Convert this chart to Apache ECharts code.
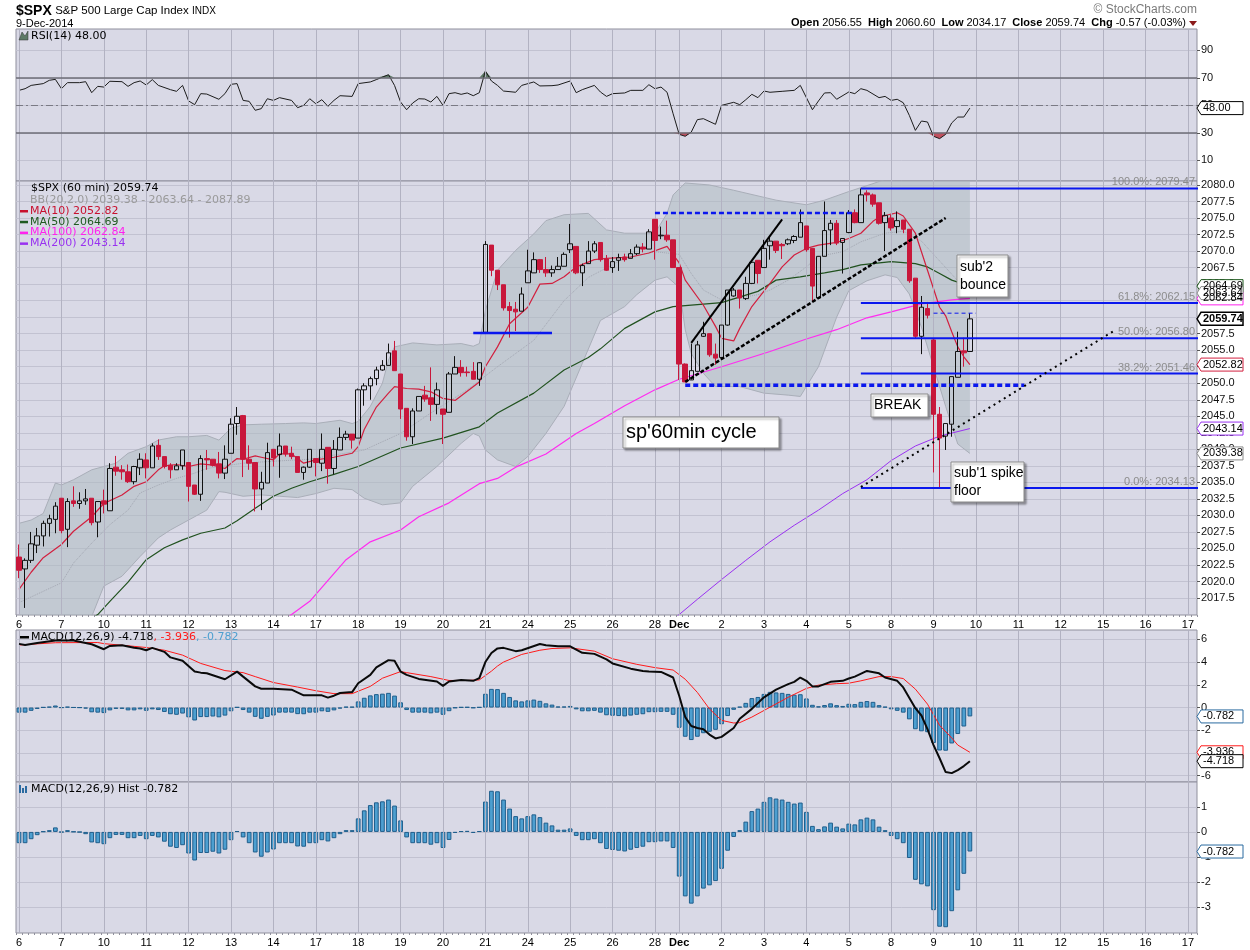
<!DOCTYPE html>
<html>
<head>
    <meta http-equiv="Content-Type" content="text/html; charset=utf-8" />
    <title>$SPX 60 min</title>
    <script type="text/javascript" src="https://cdn.jsdelivr.net/npm/echarts@6/dist/echarts.min.js"></script>
    <style>
        html, body { margin: 0; padding: 0; background: #fff; }
        #chartView { width: 1250px; height: 950px; }
    </style>
</head>
<body>
    <div id="chartView"></div>

    <script>
        //交易日与每日小时线数量
        var dayLabels = ['6', '7', '10', '11', '12', '13', '14', '17', '18', '19', '20', '21', '24', '25', '26', '28',
            'Dec', '2', '3', '4', '5', '8', '9', '10', '11', '12', '15', '16', '17'];
        var dayBars = [7, 7, 7, 7, 7, 7, 7, 7, 7, 7, 7, 7, 7, 7, 7, 4, 7, 7, 7, 7, 7, 7, 7, 7, 7, 7, 7, 7, 2];

        //K线 (60 min)
        var opens = [
            2023.7, 2021.9, 2023.2, 2025.5, 2026.9, 2028.8, 2029.4,
            2032.6, 2027.9, 2032.2, 2031.8, 2032.2, 2032.6, 2029.0,
            2032.2, 2030.7, 2037.3, 2036.9, 2036.6, 2035.1, 2037.2,
            2038.4, 2037.2, 2040.6, 2038.9, 2037.6, 2036.9, 2037.5,
            2038.0, 2034.6, 2033.2, 2038.6, 2038.5, 2037.8, 2036.4,
            2039.4, 2043.9, 2045.1, 2038.5, 2038.0, 2034.0, 2034.9,
            2040.0, 2039.2, 2040.5, 2039.4, 2038.9, 2036.5, 2037.3,
            2038.6, 2037.9, 2040.3, 2037.1, 2039.9, 2041.8, 2042.3,
            2041.7, 2049.0, 2049.6, 2050.7, 2052.0, 2052.7, 2054.9,
            2051.4, 2046.2, 2041.9, 2045.8, 2048.2, 2047.8, 2046.8,
            2046.1, 2045.6, 2051.4, 2052.4, 2051.7, 2051.8, 2050.6,
            2057.7, 2070.9, 2067.1, 2064.9, 2061.6, 2061.2, 2060.9,
            2065.2, 2066.7, 2068.7, 2067.2, 2066.7, 2067.2, 2067.7,
            2070.2, 2070.7, 2066.7, 2068.1, 2070.0, 2071.3, 2068.8,
            2067.5, 2068.6, 2069.1, 2068.9, 2069.6, 2070.6, 2070.3,
            2074.8, 2072.3, 2072.4, 2071.7,
            2067.5, 2052.9, 2050.5, 2051.8, 2057.1, 2057.5, 2054.4,
            2053.9, 2058.8, 2063.2, 2064.1, 2062.8, 2065.1, 2068.6,
            2067.5, 2070.8, 2071.5, 2071.0, 2071.1, 2071.6, 2072.1,
            2073.8, 2070.4, 2062.9, 2069.2, 2073.2, 2074.2, 2071.3,
            2072.8, 2075.8, 2074.3, 2078.8, 2078.5, 2077.3, 2074.3,
            2075.0, 2073.7, 2074.7, 2073.3, 2065.9, 2057.1, 2061.3,
            2056.55, 2045.3, 2042.0, 2043.8, 2050.9, 2054.9, 2054.8
        ];
        var highs = [
            2025.6, 2023.5, 2027.5, 2028.1, 2029.2, 2030.1, 2032.0,
            2032.6, 2032.6, 2034.4, 2033.5, 2034.0, 2032.6, 2032.1,
            2033.9, 2037.9, 2039.0, 2037.6, 2037.7, 2037.5, 2039.4,
            2039.4, 2040.9, 2041.5, 2038.9, 2037.9, 2037.9, 2039.9,
            2038.0, 2034.6, 2039.1, 2039.9, 2038.5, 2039.6, 2040.6,
            2044.7, 2046.4, 2045.2, 2040.6, 2038.0, 2036.6, 2041.0,
            2040.0, 2042.4, 2040.5, 2040.4, 2038.9, 2037.4, 2040.0,
            2038.6, 2042.4, 2040.3, 2041.4, 2043.3, 2042.8, 2042.3,
            2049.2, 2050.0, 2051.0, 2052.5, 2053.5, 2056.0, 2056.4,
            2051.4, 2046.2, 2046.2, 2048.0, 2049.6, 2052.4, 2050.1,
            2046.1, 2051.7, 2054.1, 2053.5, 2052.5, 2053.2, 2053.2,
            2071.5, 2070.9, 2067.1, 2064.9, 2062.3, 2062.3, 2064.5,
            2070.2, 2069.8, 2068.8, 2069.1, 2067.8, 2069.1, 2069.8,
            2074.1, 2070.7, 2068.1, 2071.5, 2071.5, 2071.3, 2069.4,
            2069.1, 2069.6, 2069.6, 2070.3, 2071.0, 2071.2, 2073.3,
            2074.8, 2073.7, 2074.6, 2071.7,
            2067.5, 2053.0, 2056.0, 2056.4, 2059.3, 2057.5, 2056.0,
            2058.8, 2064.1, 2064.4, 2064.1, 2066.1, 2068.6, 2068.6,
            2071.7, 2072.2, 2071.5, 2071.2, 2071.9, 2072.4, 2076.3,
            2073.8, 2070.4, 2069.2, 2077.5, 2074.7, 2074.7, 2071.9,
            2076.2, 2076.3, 2079.47, 2079.2, 2078.7, 2077.3, 2075.9,
            2075.5, 2076.0, 2074.7, 2073.3, 2065.9, 2063.2, 2062.3,
            2056.8, 2046.4, 2043.9, 2051.0, 2057.8, 2056.9, 2060.6
        ];
        var lows = [
            2020.5, 2016.0, 2022.8, 2024.3, 2025.3, 2026.8, 2027.3,
            2027.3, 2025.2, 2031.3, 2031.0, 2031.6, 2028.5, 2026.7,
            2030.3, 2030.7, 2036.0, 2035.4, 2034.9, 2034.7, 2036.1,
            2035.6, 2037.2, 2038.4, 2037.1, 2035.6, 2036.9, 2036.9,
            2032.1, 2033.1, 2032.2, 2036.9, 2037.4, 2035.6, 2035.5,
            2039.4, 2042.2, 2035.8, 2036.9, 2030.6, 2030.8, 2034.9,
            2037.4, 2035.7, 2038.9, 2038.5, 2036.5, 2035.4, 2037.2,
            2035.9, 2036.7, 2034.8, 2036.2, 2039.9, 2041.4, 2040.1,
            2041.7, 2046.6, 2047.5, 2049.7, 2051.9, 2052.7, 2051.9,
            2044.6, 2041.3, 2040.8, 2045.8, 2047.2, 2044.3, 2045.3,
            2040.8, 2045.6, 2051.4, 2051.0, 2051.0, 2050.6, 2049.6,
            2057.7, 2066.2, 2064.1, 2061.0, 2056.9, 2057.9, 2060.9,
            2065.2, 2066.7, 2066.7, 2066.1, 2066.1, 2067.2, 2067.7,
            2069.7, 2066.5, 2064.7, 2068.1, 2069.7, 2068.4, 2067.0,
            2066.7, 2067.0, 2068.4, 2068.9, 2069.4, 2069.8, 2070.3,
            2068.7, 2071.8, 2071.4, 2067.5,
            2050.5, 2050.2, 2050.5, 2051.8, 2057.0, 2054.0, 2052.8,
            2053.8, 2058.7, 2063.1, 2061.3, 2062.6, 2065.0, 2065.1,
            2067.5, 2068.7, 2069.7, 2068.8, 2070.9, 2071.2, 2072.1,
            2069.9, 2062.4, 2062.9, 2069.2, 2070.9, 2070.9, 2066.6,
            2072.7, 2074.2, 2074.3, 2077.5, 2076.7, 2074.0, 2070.0,
            2073.1, 2072.7, 2072.7, 2065.2, 2056.8, 2054.4, 2059.8,
            2036.5, 2034.17, 2039.9, 2041.9, 2050.9, 2052.5, 2054.8
        ];
        var closes = [
            2021.7, 2023.2, 2025.7, 2026.9, 2028.8, 2029.5, 2031.4,
            2027.7, 2032.1, 2031.8, 2032.2, 2032.5, 2028.9, 2032.1,
            2031.7, 2037.1, 2036.7, 2036.6, 2035.1, 2037.4, 2038.5,
            2037.2, 2040.5, 2038.9, 2037.4, 2036.9, 2037.5, 2039.9,
            2034.4, 2033.2, 2038.6, 2038.4, 2037.6, 2036.4, 2038.5,
            2043.8, 2045.0, 2038.5, 2037.9, 2034.0, 2035.0, 2039.5,
            2038.7, 2040.5, 2039.3, 2038.9, 2036.5, 2037.3, 2040.0,
            2038.0, 2040.0, 2037.1, 2040.0, 2041.8, 2042.3, 2041.4,
            2049.0, 2049.6, 2050.7, 2052.0, 2052.7, 2054.6, 2051.9,
            2046.1, 2041.9, 2045.8, 2048.0, 2047.6, 2046.8, 2049.0,
            2045.3, 2051.4, 2052.4, 2051.6, 2051.6, 2050.6, 2053.1,
            2071.0, 2067.1, 2064.9, 2061.4, 2061.0, 2060.8, 2063.5,
            2067.0, 2068.7, 2067.2, 2066.7, 2067.2, 2067.7, 2069.5,
            2071.1, 2066.7, 2067.8, 2070.0, 2071.1, 2068.7, 2067.1,
            2068.4, 2069.0, 2068.7, 2069.6, 2070.6, 2070.3, 2072.9,
            2071.6, 2072.4, 2071.7, 2067.5,
            2052.9, 2050.2, 2051.9, 2055.8, 2057.5, 2054.3, 2053.8,
            2058.8, 2064.1, 2064.1, 2062.9, 2065.1, 2068.3, 2066.6,
            2070.4, 2071.5, 2070.1, 2070.8, 2071.7, 2072.2, 2074.3,
            2070.2, 2064.7, 2069.2, 2073.1, 2074.2, 2071.2, 2071.9,
            2075.8, 2074.3, 2078.5, 2078.5, 2077.1, 2074.2, 2075.4,
            2073.5, 2074.6, 2073.3, 2065.5, 2057.1, 2061.5, 2060.3,
            2045.3, 2041.7, 2043.9, 2051.0, 2054.8, 2054.6, 2059.74
        ];

        //均线与布林带 [bar, value]
        var ma10 = [[0, 2018.8], [2, 2021.4], [4, 2023.6], [7, 2025.6], [9, 2027.6], [12, 2029.8], [14, 2031.8], [17, 2033.1],
            [19, 2034.4], [21, 2035.1], [23, 2036.9], [24, 2037.5], [26, 2037.7], [28, 2037.4], [30, 2037.8], [32, 2037.6],
            [34, 2037.1], [35, 2037.9], [36, 2038.6], [37, 2038.5], [39, 2039.0], [40, 2038.8], [42, 2038.4], [43, 2039.3],
            [45, 2039.3], [47, 2037.9], [49, 2038.4], [52, 2038.8], [55, 2039.4], [56, 2040.4], [57, 2043.0], [59, 2046.4],
            [61, 2048.5], [62, 2049.5], [64, 2049.2], [66, 2049.1], [68, 2048.7], [70, 2047.7], [72, 2047.4], [74, 2048.8],
            [76, 2050.2], [77, 2052.5], [79, 2055.5], [81, 2059.0], [84, 2061.5], [86, 2065.0], [88, 2065.1], [90, 2066.1],
            [92, 2067.6], [95, 2068.7], [97, 2068.9], [101, 2069.1], [104, 2069.7], [107, 2070.7], [109, 2068.2], [110, 2065.6],
            [113, 2061.8], [115, 2058.6], [116, 2056.8], [118, 2056.4], [119, 2058.3], [121, 2061.6], [124, 2065.1],
            [126, 2067.6], [128, 2069.4], [130, 2070.4], [132, 2070.9], [135, 2071.3], [137, 2071.9], [139, 2072.7],
            [141, 2074.5], [142, 2075.1], [144, 2075.6], [145, 2075.8], [146, 2075.3], [147, 2074.0], [148, 2072.7],
            [149, 2069.9], [150, 2067.1], [152, 2061.5], [153, 2060.2], [154, 2057.8], [155, 2055.5], [156, 2054.0], [157, 2052.82]];
        var ma50 = [[12, 2014.4], [13, 2015.0], [15, 2017.0], [18, 2019.9], [21, 2023.3], [24, 2025.1], [27, 2026.3], [30, 2027.3],
            [34, 2028.1], [36, 2029.2], [39, 2031.1], [42, 2032.9], [45, 2034.1], [48, 2035.1], [52, 2036.2], [56, 2037.4],
            [63, 2040.2], [70, 2041.7], [76, 2043.4], [79, 2045.5], [85, 2048.5], [90, 2052.0], [94, 2053.9], [96, 2055.2],
            [100, 2058.3], [105, 2060.8], [108, 2061.6], [116, 2062.2], [122, 2063.9], [125, 2065.6], [129, 2066.1],
            [133, 2066.7], [136, 2067.2], [139, 2067.9], [144, 2068.4], [148, 2068.1], [150, 2067.6], [152, 2066.6],
            [154, 2065.6], [157, 2064.69]];
        var ma100 = [[44, 2014.3], [45, 2015.0], [48, 2017.0], [54, 2023.3], [58, 2026.0], [63, 2027.8], [66, 2029.8], [71, 2031.9],
            [76, 2034.8], [79, 2035.6], [82, 2037.3], [87, 2039.3], [92, 2042.4], [95, 2043.9], [100, 2046.6], [105, 2049.0],
            [109, 2050.6], [116, 2052.5], [124, 2054.8], [130, 2056.7], [135, 2058.1], [140, 2059.9], [144, 2060.8],
            [149, 2062.0], [154, 2062.6], [157, 2062.84]];
        var ma200 = [[108, 2014.3], [109, 2015.0], [112, 2017.3], [116, 2020.3], [120, 2023.2], [124, 2026.0], [128, 2028.5],
            [132, 2030.8], [136, 2033.3], [140, 2035.4], [144, 2038.3], [148, 2040.5], [152, 2042.0], [157, 2043.14]];
        var bbUpper = [[0, 2028.8], [2, 2029.3], [4, 2030.3], [6, 2034.9], [7, 2034.6], [9, 2035.4], [12, 2036.9], [14, 2037.4],
            [16, 2037.9], [18, 2039.4], [21, 2040.4], [23, 2041.4], [26, 2041.9], [28, 2041.9], [31, 2042.1], [33, 2041.4],
            [35, 2043.2], [37, 2043.7], [40, 2043.8], [44, 2043.9], [47, 2044.0], [49, 2043.9], [53, 2044.4], [55, 2043.9],
            [56, 2044.2], [58, 2046.5], [60, 2050.0], [61, 2053.5], [62, 2055.5], [65, 2056.1], [69, 2055.8], [73, 2056.0],
            [75, 2055.6], [76, 2056.0], [77, 2061.0], [79, 2067.1], [82, 2070.1], [85, 2072.6], [87, 2074.6], [90, 2075.5],
            [94, 2075.7], [97, 2073.2], [100, 2072.7], [105, 2072.7], [107, 2075.7], [108, 2078.5], [110, 2080.3], [114, 2080.0],
            [118, 2079.2], [125, 2077.7], [130, 2077.0], [133, 2077.7], [137, 2079.0], [141, 2080.2], [145, 2081.5],
            [150, 2084.0], [157, 2087.89]];
        var bbMid = [[0, 2016.8], [7, 2019.8], [9, 2022.8], [12, 2025.8], [15, 2028.6], [18, 2030.8], [20, 2033.4], [23, 2034.6],
            [26, 2035.6], [29, 2036.4], [31, 2037.1], [37, 2037.9], [42, 2038.2], [48, 2038.5], [57, 2039.9], [63, 2042.4],
            [68, 2045.5], [74, 2049.0], [79, 2052.5], [85, 2056.5], [90, 2062.5], [94, 2066.0], [100, 2068.9], [105, 2069.9],
            [109, 2069.5], [111, 2066.6], [113, 2064.1], [116, 2062.6], [119, 2062.9], [122, 2063.4], [124, 2064.1],
            [127, 2065.6], [130, 2067.6], [132, 2069.2], [136, 2069.9], [139, 2071.4], [143, 2072.7], [146, 2073.0],
            [149, 2071.5], [152, 2068.5], [155, 2065.5], [157, 2063.64]];
        var bbLower = [[0, 2005.2], [4, 2004.5], [7, 2005.0], [9, 2010.2], [12, 2014.7], [14, 2019.3], [17, 2020.8], [20, 2023.8],
            [23, 2026.6], [25, 2027.8], [28, 2029.3], [31, 2030.8], [33, 2033.6], [34, 2033.5], [37, 2032.9], [40, 2033.1],
            [43, 2032.9], [46, 2032.7], [49, 2033.3], [52, 2034.1], [55, 2033.9], [57, 2032.6], [60, 2031.6], [63, 2031.9],
            [65, 2034.4], [69, 2037.4], [73, 2040.9], [75, 2042.4], [76, 2042.0], [77, 2039.9], [79, 2038.4], [82, 2037.4],
            [84, 2038.9], [87, 2042.4], [90, 2046.5], [93, 2053.0], [96, 2059.5], [100, 2061.6], [102, 2063.4], [105, 2065.6],
            [107, 2066.1], [109, 2064.5], [110, 2058.1], [111, 2054.5], [113, 2051.5], [115, 2049.5], [119, 2049.5],
            [123, 2048.5], [127, 2048.2], [129, 2048.0], [132, 2052.5], [135, 2060.0], [137, 2064.0], [140, 2065.5],
            [143, 2066.4], [145, 2066.0], [147, 2063.5], [149, 2058.5], [151, 2052.5], [153, 2046.5], [155, 2040.8], [157, 2039.38]];

        //RSI(14)
        var rsi = [[0, 60.9], [1, 62.1], [2, 64.5], [4, 65.8], [5, 68.2], [6, 68.9], [7, 62.1], [8, 66.5], [10, 66.5], [11, 67.2],
            [12, 59.2], [13, 63.8], [14, 63.3], [15, 67.5], [17, 67.2], [18, 63.8], [19, 66.5], [20, 67.7], [21, 64.8], [22, 68.7],
            [23, 64.5], [25, 61.4], [26, 60.2], [27, 64.5], [28, 53.2], [29, 50.5], [30, 58.5], [31, 58.2], [33, 54.4], [34, 58.5],
            [35, 65.3], [36, 65.8], [37, 53.6], [38, 52.9], [39, 46.4], [40, 47.6], [41, 54.8], [42, 53.6], [43, 55.6], [45, 53.6],
            [46, 48.3], [47, 50.0], [48, 54.8], [49, 51.2], [50, 54.1], [51, 49.3], [52, 53.6], [53, 57.0], [55, 56.5], [56, 65.8],
            [58, 67.0], [59, 68.7], [61, 72.3], [62, 64.5], [63, 52.4], [64, 46.8], [65, 51.7], [66, 54.8], [67, 54.6], [68, 52.4],
            [69, 56.5], [70, 50.0], [71, 58.5], [72, 59.2], [73, 58.0], [74, 59.0], [75, 57.0], [76, 59.2], [77, 75.0], [78, 67.7],
            [79, 64.5], [80, 60.4], [82, 59.5], [83, 64.5], [85, 67.0], [86, 64.1], [88, 64.3], [89, 64.8], [91, 67.7], [92, 59.2],
            [93, 61.4], [95, 64.5], [96, 59.7], [97, 56.5], [98, 58.5], [100, 59.0], [101, 60.9], [103, 60.9], [104, 65.0],
            [105, 62.1], [106, 63.3], [107, 59.5], [108, 43.9], [109, 28.9], [110, 27.5], [111, 30.6], [112, 39.6], [113, 40.3],
            [115, 36.2], [116, 50.0], [118, 52.2], [119, 50.5], [120, 54.1], [121, 58.0], [122, 55.6], [123, 60.4], [124, 59.5],
            [126, 60.2], [128, 60.9], [129, 64.5], [131, 46.8], [132, 53.2], [133, 59.0], [134, 59.2], [135, 54.4], [137, 59.7],
            [138, 58.5], [139, 62.1], [140, 60.9], [142, 55.6], [143, 56.5], [144, 53.6], [145, 54.4], [146, 51.9], [147, 42.7],
            [148, 31.8], [149, 38.6], [150, 37.9], [151, 27.5], [152, 25.8], [153, 28.9], [154, 37.2], [155, 41.5], [156, 41.5],
            [157, 48.0]];

        //MACD(12,26,9)
        var macdLine = [[0, 5.6], [1, 5.5], [3, 5.68], [6, 5.9], [9, 5.9], [12, 5.57], [14, 5.13], [15, 5.42], [17, 5.48], [19, 5.25],
            [20, 5.19], [21, 5.04], [22, 5.25], [24, 4.9], [25, 4.41], [27, 4.12], [29, 3.16], [30, 3.07], [31, 3.01], [34, 2.49],
            [36, 3.16], [37, 2.72], [39, 1.86], [40, 1.65], [42, 1.65], [45, 1.57], [47, 1.07], [48, 1.07], [50, 1.07], [51, 0.87],
            [52, 1.04], [53, 1.28], [55, 1.36], [56, 2.14], [58, 2.87], [59, 3.54], [61, 4.17], [62, 4.12], [63, 3.16], [64, 2.87],
            [66, 2.52], [69, 2.29], [70, 1.91], [71, 2.29], [73, 2.43], [75, 2.35], [76, 2.58], [77, 4.0], [78, 4.8], [79, 5.2],
            [80, 5.25], [82, 4.96], [83, 5.04], [86, 5.59], [87, 5.48], [89, 5.39], [91, 5.39], [93, 4.81], [95, 4.72], [97, 4.23],
            [98, 3.88], [101, 3.42], [103, 3.22], [104, 3.16], [106, 3.13], [108, 2.64], [109, 1.04], [110, -0.84], [111, -1.62],
            [112, -1.8], [113, -1.91], [114, -2.38], [115, -2.72], [116, -2.58], [118, -1.8], [119, -0.99], [121, -0.12],
            [123, 0.9], [125, 1.57], [127, 2.06], [128, 2.26], [129, 2.64], [130, 2.35], [131, 1.86], [132, 1.86], [134, 2.26],
            [136, 2.35], [137, 2.55], [138, 2.72], [140, 3.22], [142, 3.01], [143, 2.64], [145, 2.35], [146, 1.77], [148, -0.06],
            [149, -0.7], [150, -1.9], [151, -3.3], [152, -4.46], [153, -5.68], [154, -5.77], [155, -5.5], [156, -5.15], [157, -4.718]];
        var macdSignal = [[0, 5.5], [6, 5.7], [13, 5.72], [14, 5.62], [17, 5.48], [21, 5.28], [24, 5.04], [27, 4.61], [30, 3.88],
            [34, 3.25], [37, 3.07], [39, 2.72], [42, 2.2], [46, 1.8], [49, 1.48], [52, 1.22], [55, 1.22], [58, 1.86], [60, 2.58],
            [63, 3.16], [64, 3.07], [68, 2.72], [71, 2.38], [74, 2.38], [76, 2.43], [78, 3.2], [79, 3.65], [80, 4.0], [83, 4.67],
            [86, 5.04], [88, 5.19], [91, 5.25], [95, 4.96], [98, 4.29], [102, 3.8], [105, 3.51], [108, 3.3], [110, 2.49],
            [112, 1.33], [114, -0.12], [116, -1.13], [118, -1.36], [119, -1.33], [121, -0.84], [124, 0.03], [127, 0.9],
            [130, 1.68], [132, 1.97], [135, 2.1], [137, 2.14], [139, 2.35], [142, 2.72], [144, 2.72], [146, 2.55], [148, 1.62],
            [150, 0.3], [152, -1.57], [154, -2.67], [155, -3.3], [157, -3.936]];
        var macdHist = [
            -0.45, -0.45, -0.29, -0.13, 0.02, 0.07, 0.18,
            -0.01, 0.07, 0.01, -0.01, -0.09, -0.42, -0.45,
            -0.49, -0.25, -0.12, -0.12, -0.25, -0.25, -0.16,
            -0.29, -0.16, -0.22, -0.39, -0.59, -0.64, -0.53,
            -0.86, -1.14, -0.84, -0.84, -0.79, -0.86, -0.71,
            -0.33, 0.03, -0.22, -0.45, -0.82, -0.99, -0.82,
            -0.70, -0.45, -0.45, -0.45, -0.58, -0.59, -0.45,
            -0.45, -0.33, -0.38, -0.25, -0.09, 0.07, 0.07,
            0.54, 0.86, 1.07, 1.18, 1.22, 1.29, 1.05,
            0.46, -0.22, -0.45, -0.45, -0.45, -0.51, -0.45,
            -0.64, -0.32, -0.04, 0.03, 0.04, -0.04, 0.03,
            1.21, 1.64, 1.62, 1.29, 0.93, 0.63, 0.54,
            0.63, 0.70, 0.59, 0.37, 0.26, 0.09, 0.09,
            0.14, -0.16, -0.33, -0.33, -0.29, -0.45, -0.68,
            -0.72, -0.75, -0.78, -0.71, -0.64, -0.59, -0.41,
            -0.41, -0.38, -0.38, -0.64,
            -1.78, -2.57, -2.86, -2.57, -2.26, -2.13, -1.96,
            -1.47, -0.75, -0.20, 0.07, 0.41, 0.83, 0.93,
            1.20, 1.38, 1.33, 1.29, 1.20, 1.13, 1.17,
            0.80, 0.24, 0.11, 0.22, 0.37, 0.21, 0.14,
            0.33, 0.30, 0.50, 0.57, 0.50, 0.21, 0.07,
            -0.16, -0.29, -0.45, -1.04, -1.91, -2.09, -2.17,
            -3.12, -3.78, -3.80, -3.16, -2.33, -1.67, -0.782
        ];

        //坐标刻度
        var rsiTicks = [10, 30, 50, 70, 90];
        var priceTicks = [2017.5, 2020, 2022.5, 2025, 2027.5, 2030, 2032.5, 2035, 2037.5, 2040, 2042.5, 2045, 2047.5, 2050,
            2052.5, 2055, 2057.5, 2060, 2062.5, 2065, 2067.5, 2070, 2072.5, 2075, 2077.5, 2080];
        var macdTicks = [-6, -4, -2, 0, 2, 4, 6];
        var histTicks = [-3, -2, -1, 0, 1];

        //标注：斐波那契回撤与趋势线
        var fibLevels = [2079.47, 2062.15, 2056.80, 2051.46, 2034.13];
        var fibNames = ['100.0%', '61.8%', '50.0%', '38.2%', '0.0%'];
        var fibFrom = 139;
        var blueDashTop = [[105, 2075.75], [138, 2075.75]];
        var blueDashBottom = [[110, 2049.7], [166, 2049.7]];
        var blueShort = [[75, 2057.6], [88, 2057.6]];
        var blueThinDash = [[151, 2060.6], [158, 2060.6]];
        var channelUpper = [[111, 2056.1], [126, 2074.8]];
        var channelLower = [[110, 2050.2], [153, 2075.0]];
        var supportDotted = [[139, 2034.3], [181, 2058.05]];

        var cats = [], dayStarts = [], isDayStart = [];
        (function () {
            var k = 0;
            dayLabels.forEach(function (lbl, d) {
                dayStarts.push(k);
                for (var j = 0; j < dayBars[d]; j++) {
                    cats.push(lbl + '_' + d + '_' + j);
                    isDayStart.push(j === 0);
                    k++;
                }
            });
        })();

        var AXIS_FONT = 'Liberation Sans, Arial, sans-serif';
        var LEG_FONT = 'DejaVu Sans, Verdana, sans-serif';
        var BG = '#d9d9e6';

        function gridFor(top, height) {
            return {
                left: 16, top: top, width: 1181, height: height, show: true, backgroundColor: BG,
                borderColor: '#8f8f9c', borderWidth: 1, containLabel: false, outerBoundsMode: 'none'
            };
        }

        function xAxisFor(gi, showLabels) {
            return {
                type: 'category', gridIndex: gi, data: cats, boundaryGap: true, position: 'bottom',
                axisLine: { show: false, onZero: false },
                axisTick: { show: showLabels, interval: 0, length: 2, lineStyle: { color: '#8f8f9c' } },
                axisLabel: {
                    show: showLabels, margin: 4, color: '#000', fontSize: 11, fontFamily: AXIS_FONT,
                    interval: function (i) { return isDayStart[i]; },
                    formatter: function (v) {
                        var s = v.split('_')[0];
                        return s === 'Dec' ? '{b|Dec}' : s;
                    },
                    rich: { b: { fontWeight: 'bold', fontSize: 11, fontFamily: AXIS_FONT, color: '#000' } }
                },
                splitLine: { show: false }
            };
        }

        function yAxisFor(gi, min, max, ticks, fmt) {
            return {
                type: 'value', gridIndex: gi, position: 'right', min: min, max: max, scale: true,
                axisLine: { show: false, onZero: false },
                axisTick: { show: true, customValues: ticks, length: 3, lineStyle: { color: '#555' } },
                axisLabel: { customValues: ticks, formatter: fmt, color: '#111', fontSize: 11, fontFamily: AXIS_FONT, margin: 4 },
                splitLine: { show: true, lineStyle: { color: '#c2c2d1', width: 1 } }
            };
        }

        function seg(gi, pts, color, width, type, z) {
            return {
                type: 'line', xAxisIndex: gi, yAxisIndex: gi, data: pts, symbol: 'none', silent: true, z: z || 6,
                lineStyle: { color: color, width: width, type: type || 'solid' }, animation: false
            };
        }

        var series = [];

        //日分隔竖线
        [0, 1, 2, 3].forEach(function (g) {
            series.push({
                type: 'line', xAxisIndex: g, yAxisIndex: g, data: [], silent: true, z: 1,
                markLine: {
                    silent: true, symbol: 'none', animation: false, label: { show: false },
                    lineStyle: { color: '#b2b2c2', width: 1, type: 'solid' },
                    data: dayStarts.map(function (i) { return { xAxis: i }; })
                }
            });
        });

        //RSI
        series.push({
            type: 'line', xAxisIndex: 0, yAxisIndex: 0, stack: 'hi', symbol: 'none', silent: true, z: 2,
            data: rsi.map(function (p) { return [p[0], 70]; }), lineStyle: { width: 0, opacity: 0 }
        });
        series.push({
            type: 'line', xAxisIndex: 0, yAxisIndex: 0, stack: 'hi', symbol: 'none', silent: true, z: 2,
            data: rsi.map(function (p) { return [p[0], Math.max(p[1] - 70, 0)]; }),
            lineStyle: { width: 0, opacity: 0 }, areaStyle: { color: '#5d7a66', opacity: 1 }
        });
        series.push({
            type: 'line', xAxisIndex: 0, yAxisIndex: 0, stack: 'lo', symbol: 'none', silent: true, z: 2,
            data: rsi.map(function (p) { return [p[0], Math.min(p[1], 30)]; }), lineStyle: { width: 0, opacity: 0 }
        });
        series.push({
            type: 'line', xAxisIndex: 0, yAxisIndex: 0, stack: 'lo', symbol: 'none', silent: true, z: 2,
            data: rsi.map(function (p) { return [p[0], 30 - Math.min(p[1], 30)]; }),
            lineStyle: { width: 0, opacity: 0 }, areaStyle: { color: '#c0505f', opacity: 1 }
        });
        series.push({
            type: 'line', xAxisIndex: 0, yAxisIndex: 0, data: rsi, symbol: 'none', silent: true, z: 4,
            lineStyle: { color: '#1c1c1c', width: 1 },
            markLine: {
                silent: true, symbol: 'none', animation: false, label: { show: false },
                data: [
                    { yAxis: 70, lineStyle: { color: '#6c6c76', width: 1.5, type: 'solid' } },
                    { yAxis: 30, lineStyle: { color: '#6c6c76', width: 1.5, type: 'solid' } },
                    { yAxis: 50, lineStyle: { color: '#7a7a84', width: 1, type: [7, 3, 2, 3] } }
                ]
            }
        });

        //布林带填充
        series.push({
            type: 'custom', xAxisIndex: 1, yAxisIndex: 1, data: [[0, 2050]], silent: true, z: 2,
            renderItem: function (params, api) {
                var up = bbUpper.map(function (p) { return api.coord(p); });
                var lo = bbLower.map(function (p) { return api.coord(p); }).reverse();
                var cs = params.coordSys;
                return {
                    type: 'group',
                    clipPath: { type: 'rect', shape: { x: cs.x, y: cs.y, width: cs.width, height: cs.height } },
                    children: [{
                        type: 'polygon', shape: { points: up.concat(lo) },
                        style: { fill: 'rgba(172,186,192,0.52)', stroke: null }
                    }]
                };
            }
        });
        series.push(seg(1, bbUpper, '#a9aeb8', 1, 'solid', 3));
        series.push(seg(1, bbLower, '#a9aeb8', 1, 'solid', 3));
        series.push(seg(1, bbMid, '#a3a7b2', 1, 'dotted', 3));
        series.push(seg(1, ma200, '#9a32f0', 1, 'solid', 4));
        series.push(seg(1, ma100, '#ff2cf0', 1.2, 'solid', 4));
        series.push(seg(1, ma50, '#21521f', 1.2, 'solid', 4));
        series.push(seg(1, ma10, '#d2203f', 1.2, 'solid', 4));

        //K线
        series.push({
            type: 'candlestick', xAxisIndex: 1, yAxisIndex: 1, silent: true, z: 5, barWidth: 5,
            data: opens.map(function (o, i) { return [o, closes[i], lows[i], highs[i]]; }),
            itemStyle: {
                color: 'rgba(0,0,0,0)', color0: '#c8173b', borderColor: '#111', borderColor0: '#c8173b',
                borderColorDoji: '#111', borderWidth: 1
            }
        });

        //标注线
        fibLevels.forEach(function (v) {
            series.push(seg(1, [[fibFrom, v], [195, v]], '#0a17ee', 2, 'solid', 7));
        });
        series.push(seg(1, blueDashTop, '#0a17ee', 2.5, [5, 3], 7));
        series.push(seg(1, blueDashBottom, '#0a17ee', 3.5, [5, 3], 7));
        series.push(seg(1, blueShort, '#0a17ee', 2.5, 'solid', 7));
        series.push(seg(1, blueThinDash, '#0a17ee', 1, [4, 3], 7));
        series.push(seg(1, channelUpper, '#000', 2, 'solid', 7));
        series.push(seg(1, channelLower, '#000', 2.5, [4, 2], 7));
        series.push(seg(1, supportDotted, '#000', 2, [2, 4], 7));

        //MACD
        series.push({
            type: 'bar', xAxisIndex: 2, yAxisIndex: 2, data: macdHist, barWidth: '78%', silent: true, z: 3,
            itemStyle: { color: '#4d9fd0', borderColor: '#1f5e8c', borderWidth: 1 }
        });
        series.push(seg(2, macdSignal, '#ff1a1a', 1, 'solid', 4));
        series.push(seg(2, macdLine, '#0a0a0a', 2, 'solid', 5));
        series.push({
            type: 'bar', xAxisIndex: 3, yAxisIndex: 3, data: macdHist, barWidth: '78%', silent: true, z: 3,
            itemStyle: { color: '#4d9fd0', borderColor: '#1f5e8c', borderWidth: 1 }
        });

        var myChart = echarts.init(document.getElementById('chartView'));
        myChart.setOption({
            animation: false,
            backgroundColor: '#ffffff',
            grid: [gridFor(29, 152), gridFor(181, 434), gridFor(630, 152), gridFor(782, 151)],
            xAxis: [xAxisFor(0, false), xAxisFor(1, true), xAxisFor(2, false), xAxisFor(3, true)],
            yAxis: [
                yAxisFor(0, -5.0, 105.5, rsiTicks, function (v) { return String(v); }),
                yAxisFor(1, 2014.93, 2080.6, priceTicks, function (v) { return v.toFixed(1); }),
                yAxisFor(2, -6.55, 6.82, macdTicks, function (v) { return String(v); }),
                yAxisFor(3, -4.03, 1.99, histTicks, function (v) { return String(v); })
            ],
            series: series
        });

        //价格标签与文字
        function yPix(ax, v) { return myChart.convertToPixel({ yAxisIndex: ax }, v); }

        var TOP = 200;

        function tag(y, text, color, bold) {
            return {
                type: 'group', z: TOP, children: [
                    {
                        type: 'polygon', z: TOP, zlevel: 0,
                        shape: { points: [[1197, y], [1201, y - 6.5], [1243, y - 6.5], [1243, y + 6.5], [1201, y + 6.5]] },
                        style: { fill: '#fff', stroke: color, lineWidth: bold ? 1.5 : 1 }
                    },
                    {
                        type: 'text', z: TOP + 1, x: 1203, y: y,
                        style: { text: text, fill: '#000', font: (bold ? 'bold ' : '') + '11px ' + AXIS_FONT, verticalAlign: 'middle' }
                    }
                ]
            };
        }

        function txt(x, y, text, color, font, align) {
            return { type: 'text', x: x, y: y, z: 90, style: { text: text, fill: color, font: font, align: align || 'left', verticalAlign: 'middle' } };
        }

        function box(x, y, w, h, lines, size, lh) {
            var ch = [{
                type: 'rect', z: 95, shape: { x: x, y: y, width: w, height: h },
                style: { fill: '#fff', stroke: '#8a8a8a', lineWidth: 1, shadowBlur: 2, shadowOffsetX: 2, shadowOffsetY: 2, shadowColor: 'rgba(0,0,0,0.35)' }
            }];
            lines.forEach(function (s, i) {
                ch.push({
                    type: 'text', z: 96, x: x + 3, y: y + h / 2 + (i - (lines.length - 1) / 2) * lh,
                    style: { text: s, fill: '#000', font: size + 'px ' + AXIS_FONT, verticalAlign: 'middle' }
                });
            });
            return { type: 'group', z: 95, children: ch };
        }

        var g = [];
        //标题
        g.push({
            type: 'text', x: 16, y: 11, z: 90,
            style: {
                text: '{a|$SPX} {b|S&P 500 Large Cap Index} {c|INDX}', verticalAlign: 'middle', fill: '#000',
                rich: {
                    a: { fontWeight: 'bold', fontSize: 14, fontFamily: AXIS_FONT, fill: '#000' },
                    b: { fontSize: 11.5, fontFamily: AXIS_FONT, fill: '#000' },
                    c: { fontSize: 10, fontFamily: AXIS_FONT, fill: '#000' }
                }
            }
        });
        g.push(txt(16, 24, '9-Dec-2014', '#000', '11px ' + AXIS_FONT));
        g.push(txt(1197, 10, '\u00A9 StockCharts.com', '#7a7a7a', '12px ' + AXIS_FONT, 'right'));
        g.push({
            type: 'text', x: 1186, y: 23, z: 90,
            style: {
                text: '{b|Open} 2056.55  {b|High} 2060.60  {b|Low} 2034.17  {b|Close} 2059.74  {b|Chg} -0.57 (-0.03%)',
                fill: '#000', font: '11px ' + AXIS_FONT, align: 'right', verticalAlign: 'middle',
                rich: { b: { fontWeight: 'bold', fontSize: 11, fontFamily: AXIS_FONT, fill: '#000' } }
            }
        });
        g.push({ type: 'polygon', z: 90, shape: { points: [[1189, 21], [1197, 21], [1193, 26]] }, style: { fill: '#8b1a1a' } });

        //面板图例
        g.push(txt(31, 36, 'RSI(14) 48.00', '#000', '11px ' + LEG_FONT));
        g.push({ type: 'polygon', z: 90, shape: { points: [[19, 40], [22, 32], [25, 36], [28, 31], [28, 40]] }, style: { fill: '#5d7a66', stroke: '#333', lineWidth: 0.5 } });
        g.push(txt(31, 188, '$SPX (60 min) 2059.74', '#000', '11px ' + LEG_FONT));
        g.push(txt(30, 200, 'BB(20,2.0) 2039.38 - 2063.64 - 2087.89', '#9a9a9a', '11px ' + LEG_FONT));
        var maLeg = [['MA(10) 2052.82', '#c8102e'], ['MA(50) 2064.69', '#1f5a1f'], ['MA(100) 2062.84', '#ff22ee'], ['MA(200) 2043.14', '#9932f0']];
        maLeg.forEach(function (m, i) {
            var y = 211 + i * 10.8;
            g.push({ type: 'rect', z: 90, shape: { x: 20, y: y - 1, width: 8, height: 2.5 }, style: { fill: m[1] } });
            g.push(txt(30, y, m[0], m[1], '11px ' + LEG_FONT));
        });
        g.push({ type: 'rect', z: 90, shape: { x: 20, y: 636, width: 9, height: 2.5 }, style: { fill: '#000' } });
        g.push({
            type: 'text', x: 31, y: 637, z: 90,
            style: {
                text: 'MACD(12,26,9) -4.718{r|, -3.936}{c|, -0.782}', fill: '#000', font: '11px ' + LEG_FONT, verticalAlign: 'middle',
                rich: { r: { fill: '#ff1a1a', fontSize: 11, fontFamily: LEG_FONT }, c: { fill: '#4d9fd0', fontSize: 11, fontFamily: LEG_FONT } }
            }
        });
        g.push({ type: 'rect', z: 90, shape: { x: 19, y: 785, width: 2, height: 8 }, style: { fill: '#2a6aa0' } });
        g.push({ type: 'rect', z: 90, shape: { x: 22, y: 788, width: 2, height: 5 }, style: { fill: '#2a6aa0' } });
        g.push({ type: 'rect', z: 90, shape: { x: 25, y: 786, width: 2, height: 7 }, style: { fill: '#2a6aa0' } });
        g.push(txt(31, 789, 'MACD(12,26,9) Hist -0.782', '#000', '11px ' + LEG_FONT));

        //斐波那契标签
        fibLevels.forEach(function (v, i) {
            g.push(txt(1195, yPix(1, v) - 6, fibNames[i] + ': ' + v.toFixed(2), '#8c8c8c', '11px ' + AXIS_FONT, 'right'));
        });

        //文字框
        g.push(box(623, 417, 156, 31, ["sp'60min cycle"], 20, 0));
        g.push(box(957, 255, 51, 42, ["sub'2", 'bounce'], 14, 18));
        g.push(box(871, 394, 57, 23, ['BREAK'], 14, 0));
        g.push(box(951, 462, 73, 40, ["sub'1 spike", 'floor'], 14, 18));

        //右侧数值标签
        g.push(tag(yPix(0, 48.0), '48.00', '#000', false));
        g.push(tag(yPix(1, 2064.69), '2064.69', '#1f5a1f', false));
        g.push(tag(yPix(1, 2062.84), '2062.84', '#ff22ee', false));
        g.push(tag(yPix(1, 2063.64), '2063.64', '#8c8c8c', false));
        g.push(tag(yPix(1, 2059.74), '2059.74', '#000', true));
        g.push(tag(yPix(1, 2052.82), '2052.82', '#d2203f', false));
        g.push(tag(yPix(1, 2043.14), '2043.14', '#9932f0', false));
        g.push(tag(yPix(1, 2039.38), '2039.38', '#8c8c8c', false));
        g.push(tag(yPix(2, -0.782), '-0.782', '#2a6aa0', false));
        g.push(tag(yPix(2, -3.936), '-3.936', '#ff1a1a', false));
        g.push(tag(yPix(2, -4.718), '-4.718', '#000', false));
        g.push(tag(yPix(3, -0.782), '-0.782', '#2a6aa0', false));

        myChart.setOption({ graphic: { elements: g } });
    </script>
</body>
</html>
